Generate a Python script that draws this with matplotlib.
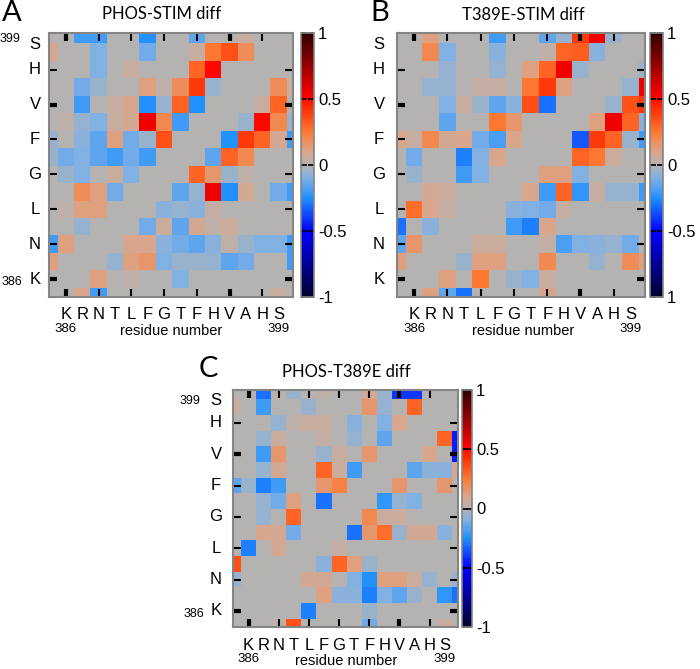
import numpy as np
import matplotlib.pyplot as plt
from matplotlib.colors import LinearSegmentedColormap

plt.rcParams['font.family'] = ['Liberation Sans', 'DejaVu Sans']

# =====================================================
# Data : pairwise difference maps, residues 385..400
# rows listed from top (400) to bottom (385), columns 385..400
# =====================================================

seq_letters = ['K', 'R', 'N', 'T', 'L', 'F', 'G', 'T', 'F', 'H', 'V', 'A', 'H', 'S']
seq_numbers = list(range(386, 400))
y_letters = ['K', 'N', 'L', 'G', 'F', 'V', 'H', 'S']
y_letter_pos = [386, 388, 390, 392, 394, 396, 398, 399.45]
tick_pos = [386, 388, 390, 392, 394, 396, 398]

phos_stim = [
    [0, 0, -.20, -.20, 0, 0, -.25, 0, 0, -.15, 0, 0, .05, 0, 0, 0],
    [.08, 0, 0, -.10, 0, 0, -.12, 0, 0, .05, .25, .35, .18, 0, 0, 0],
    [0, 0, 0, -.10, 0, .05, 0, 0, 0, .30, .50, 0, 0, 0, 0, 0],
    [0, 0, -.12, -.05, 0, 0, .12, .03, .18, .40, -.05, 0, 0, 0, .18, .05],
    [0, 0, -.20, 0, .05, .10, -.25, -.05, .30, -.25, 0, 0, 0, .05, .30, 0],
    [0, .03, -.06, -.10, .05, .08, .55, .20, -.20, 0, 0, 0, -.05, .50, .20, -.05],
    [-.05, 0, -.08, -.15, .12, -.12, -.05, .35, 0, 0, 0, -.25, .40, .30, .08, -.20],
    [-.05, -.12, -.10, -.15, -.20, -.12, -.20, 0, 0, 0, -.15, .30, .20, 0, 0, 0],
    [0, -.05, -.10, 0, .06, -.10, 0, 0, 0, .30, .15, -.05, .03, 0, 0, 0],
    [0, 0, .18, .12, -.12, 0, 0, 0, -.15, -.06, .55, -.25, .08, 0, -.12, -.20],
    [0, .03, .12, .12, 0, 0, 0, -.08, -.06, -.08, .04, 0, 0, 0, 0, 0],
    [0, 0, -.06, 0, 0, 0, -.12, .06, -.15, .08, .03, .06, 0, 0, 0, 0],
    [-.20, .12, 0, 0, 0, .10, .10, -.08, -.12, -.15, -.08, .03, -.05, -.10, -.10, -.20],
    [.12, 0, 0, 0, -.06, .12, .15, -.10, -.05, -.05, -.06, -.15, -.12, 0, 0, -.20],
    [0, 0, 0, .12, 0, .03, 0, 0, -.10, 0, 0, 0, 0, 0, 0, 0],
    [0, 0, .10, -.20, 0, 0, 0, 0, 0, 0, 0, 0, 0, 0, .05, 0],
]

t389e_stim = [
    [0, 0, .12, 0, 0, 0, -.20, 0, 0, -.15, -.05, .40, .55, -.05, 0, 0],
    [0, 0, .20, -.10, 0, 0, -.08, 0, 0, .03, .30, .32, -.08, 0, 0, 0],
    [0, 0, 0, -.06, 0, 0, -.06, 0, .12, .30, .55, -.05, 0, 0, 0, -.05],
    [0, 0, -.06, -.06, 0, .04, .04, 0, .25, .40, .12, 0, 0, 0, -.06, .55],
    [0, 0, 0, -.10, .05, -.05, -.15, -.08, .35, -.30, 0, 0, 0, -.05, .35, .40],
    [0, 0, 0, -.15, 0, 0, .25, .15, 0, 0, 0, 0, .12, .55, .30, -.08],
    [.10, .05, .20, .08, .10, -.12, -.18, .10, 0, 0, 0, -.35, .40, .30, -.05, -.20],
    [0, -.12, 0, 0, -.28, -.10, .10, 0, 0, 0, 0, .30, .25, .06, 0, 0],
    [0, -.05, 0, 0, -.20, -.10, 0, 0, 0, .12, .12, -.10, 0, 0, 0, 0],
    [0, 0, .08, .06, 0, 0, 0, 0, .10, -.20, .30, -.22, .05, -.06, -.06, -.20],
    [0, .28, .10, .04, 0, 0, 0, -.08, -.10, -.12, .04, 0, 0, 0, 0, 0],
    [-.30, 0, -.08, 0, 0, 0, 0, -.20, -.28, .10, 0, 0, 0, 0, 0, 0],
    [-.15, .15, 0, 0, 0, .06, .06, 0, 0, .04, -.18, -.10, -.08, -.06, -.12, 0],
    [.12, 0, 0, 0, -.05, .12, .12, 0, 0, .20, 0, 0, -.06, 0, .18, .12],
    [0, 0, 0, .12, 0, .25, 0, -.05, -.10, .05, 0, 0, 0, 0, 0, 0],
    [0, 0, .12, -.15, -.30, 0, 0, 0, 0, .10, 0, 0, 0, 0, 0, 0],
]

phos_t389e = [
    [0, 0, -.30, .03, -.05, 0, .03, 0, 0, .08, -.05, -.40, -.40, 0, 0, 0],
    [.05, 0, -.20, 0, 0, -.05, 0, 0, 0, .15, -.06, 0, .30, 0, 0, 0],
    [0, 0, 0, -.06, .03, .05, .05, 0, -.08, 0, -.10, .10, 0, 0, 0, 0],
    [0, 0, -.06, .06, 0, 0, .04, 0, -.06, 0, -.15, 0, 0, 0, .30, -.45],
    [0, 0, -.20, .15, 0, 0, -.05, .05, 0, .15, 0, 0, 0, .10, 0, -.45],
    [0, 0, -.06, .08, 0, 0, .30, .06, -.20, 0, 0, 0, -.15, -.08, -.08, .08],
    [-.15, -.05, -.28, -.20, 0, 0, .15, .22, 0, 0, 0, .15, 0, 0, .15, 0],
    [0, 0, -.06, -.12, .12, 0, -.30, 0, 0, 0, -.22, -.06, -.10, 0, 0, 0],
    [0, 0, -.06, 0, .30, 0, 0, 0, 0, .20, .06, .06, 0, 0, 0, 0],
    [0, 0, .10, .08, -.12, 0, 0, 0, -.30, .15, .28, -.05, .08, .08, -.08, 0],
    [0, -.28, 0, .08, 0, 0, 0, .04, 0, 0, 0, 0, 0, 0, 0, 0],
    [.35, 0, 0, 0, 0, 0, -.08, .30, .12, -.05, 0, 0, 0, 0, 0, 0],
    [-.06, 0, 0, 0, 0, .08, .08, 0, -.10, -.25, .12, .12, .06, -.06, 0, -.06],
    [0, 0, 0, 0, 0, 0, .12, -.08, -.08, -.28, -.10, -.15, -.05, 0, -.22, -.30],
    [0, 0, 0, 0, 0, -.28, 0, 0, 0, -.05, 0, 0, 0, 0, 0, 0],
    [0, 0, 0, .03, .35, 0, 0, 0, 0, -.12, 0, 0, 0, 0, .05, 0],
]

cbar_ticks = [-1, -0.5, 0, 0.5, 1]
cbar_labels = ['-1', '-0.5', '0', '0.5', '1']
cbar_labels_b = ['1', '-0.5', '0', '0.5', '1']

# =====================================================
# Colormap (navy - blue - grey - orange - red - dark red)
# =====================================================

cmap = LinearSegmentedColormap.from_list('diff', [
    (0.0, '#00002e'), (0.25, '#0000ff'), (0.375, '#2090ff'), (0.45, '#80b0e4'),
    (0.5, '#b4b4b4'), (0.55, '#d9a68c'), (0.625, '#ff7a33'), (0.72, '#ff2a00'),
    (0.76, '#ff0000'), (1.0, '#2e0000')])

# =====================================================
# Layout helpers (pixel boxes of the 700x669 picture)
# =====================================================

W, H = 700, 669
PX = 0.72   # points per pixel at dpi 100


def px_box(x0, y0, x1, y1):
    return [x0 / W, 1 - y1 / H, (x1 - x0) / W, (y1 - y0) / H]


def fig_text(x, y, s, **kw):
    fig.text(x / W, 1 - y / H, s, ha='center', va='center', **kw)


fig = plt.figure(figsize=(W / 100, H / 100), dpi=100)

panels = [
    dict(data=phos_stim, title='PHOS-STIM diff', letter='A',
         heat=(49, 33, 293, 297), cbar=(301, 33, 314, 297), labels=cbar_labels,
         title_xy=(162, 14), letter_xy=(12, 13), ydx=14, nums=True,
         num_xy=[(10, 39), (12, 282)], rn_dx=0),
    dict(data=t389e_stim, title='T389E-STIM diff', letter='B',
         heat=(397, 33, 645, 297), cbar=(650, 33, 663, 297), labels=cbar_labels_b,
         title_xy=(523, 15), letter_xy=(380, 13), ydx=18, nums=False,
         num_xy=None, rn_dx=2),
    dict(data=phos_t389e, title='PHOS-T389E diff', letter='C',
         heat=(233, 390, 458, 627), cbar=(462, 390, 472, 627), labels=cbar_labels,
         title_xy=(346, 372), letter_xy=(208, 369), ydx=17, nums=True,
         num_xy=[(190, 401), (194, 614)], rn_dx=1),
]

edges = np.arange(384.5, 401.0, 1.0)

for p in panels:
    ax = fig.add_axes(px_box(*p['heat']))
    vals = np.flipud(np.array(p['data']))
    mesh = ax.pcolormesh(edges, edges, vals, cmap=cmap, vmin=-1, vmax=1)
    ax.set_xlim(384.97, 399.88)
    ax.set_ylim(384.97, 400.1)

    # inward tick marks on all four sides
    ax.set_xticks(tick_pos)
    ax.set_yticks(tick_pos)
    ax.set_xticklabels([])
    ax.set_yticklabels([])
    ax.tick_params(direction='in', length=6, width=1.5, color='black',
                   top=True, right=True)
    for axis in (ax.xaxis, ax.yaxis):
        for i, t in enumerate(axis.get_major_ticks()):
            if i in (0, 5):
                t.tick1line.set_markeredgewidth(3)
                t.tick2line.set_markeredgewidth(3)
    for s in ax.spines.values():
        s.set_edgecolor('#858585')
        s.set_linewidth(1.5)

    # residue letters along x
    for xx, s in zip(seq_numbers, seq_letters):
        ax.annotate(s, xy=(xx, 0), xycoords=('data', 'axes fraction'),
                    xytext=(0, -18 * PX), textcoords='offset points',
                    ha='center', va='center', fontsize=12)
    ax.annotate('386', xy=(386, 0), xycoords=('data', 'axes fraction'),
                xytext=(0, -32 * PX), textcoords='offset points',
                ha='center', va='center', fontsize=9.5)
    ax.annotate('399', xy=(399, 0), xycoords=('data', 'axes fraction'),
                xytext=(0, -32 * PX), textcoords='offset points',
                ha='center', va='center', fontsize=9.5)
    ax.annotate('residue number', xy=(0.5, 0), xycoords='axes fraction',
                xytext=(p['rn_dx'] * PX, -34 * PX), textcoords='offset points',
                ha='center', va='center', fontsize=10.5)

    # residue letters along y
    for yy, s in zip(y_letter_pos, y_letters):
        ax.annotate(s, xy=(0, yy), xycoords=('axes fraction', 'data'),
                    xytext=(-p['ydx'] * PX, 0), textcoords='offset points',
                    ha='center', va='center', fontsize=12)
    if p['nums']:
        fig_text(*p['num_xy'][0], '399', fontsize=9)
        fig_text(*p['num_xy'][1], '386', fontsize=9)

    fig_text(*p['title_xy'], p['title'], fontsize=12, family=['Lato', 'DejaVu Sans'])
    fig_text(*p['letter_xy'], p['letter'], fontsize=21, family=['Lato', 'DejaVu Sans'])

    # colour bar
    cax = fig.add_axes(px_box(*p['cbar']))
    cb = fig.colorbar(mesh, cax=cax)
    cb.set_ticks(cbar_ticks)
    cb.set_ticklabels(p['labels'])
    cax.tick_params(direction='in', length=4, width=1.2, left=True, right=True,
                    labelsize=12, pad=3)
    cb.outline.set_edgecolor('#858585')
    cb.outline.set_linewidth(1.2)

plt.savefig('out.png', dpi=100)
